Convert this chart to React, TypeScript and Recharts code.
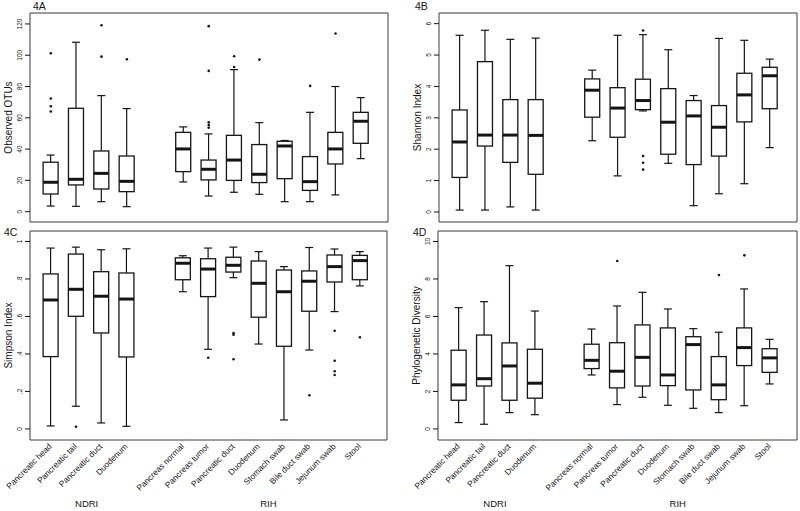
import React from 'react';
import { ComposedChart, Bar, Scatter, XAxis, YAxis, ReferenceArea } from 'recharts';

const ndriSites = ['Pancreatic head', 'Pancreatic tail', 'Pancreatic duct', 'Duodenum'];
const rihSites = ['Pancreas normal', 'Pancreas tumor', 'Pancreatic duct', 'Duodenum', 'Stomach swab', 'Bile duct swab', 'Jejunum swab', 'Stool'];
const cohorts = ['NDRI', 'RIH'];

// each row: [low whisker, q1, median, q3, high whisker], NDRI sites then RIH sites
const otuStats = [
  [3.6, 11.3, 18.8, 31.6, 36.2],
  [3.4, 17.1, 20.7, 66.1, 108.3],
  [6.4, 14.5, 24.5, 38.8, 74.2],
  [3.2, 12.8, 19.4, 35.6, 65.9],
  [19.0, 25.6, 40.1, 50.7, 54.2],
  [10.0, 20.3, 27.1, 33.0, 49.7],
  [12.4, 20.0, 33.0, 48.8, 90.8],
  [11.1, 18.6, 23.9, 42.9, 56.9],
  [6.4, 21.1, 42.0, 45.0, 45.5],
  [6.4, 13.6, 19.2, 35.2, 63.5],
  [10.7, 30.5, 40.1, 50.7, 80.0],
  [33.9, 43.7, 57.8, 63.5, 72.9],
];
const otuOutliers = [[101.3, 72.3, 67.4, 64], [], [119.2, 99.1], [97.4], [], [118.6, 90, 57.1, 55.4, 53.7], [99.4, 92.5], [97.2], [], [80.4], [113.9], []];

const shannonStats = [
  [0.06, 1.1, 2.23, 3.25, 5.63],
  [0.06, 2.1, 2.45, 4.79, 5.79],
  [0.16, 1.58, 2.45, 3.58, 5.5],
  [0.06, 1.2, 2.44, 3.58, 5.54],
  [2.27, 3.02, 3.88, 4.24, 4.52],
  [1.15, 2.38, 3.31, 3.96, 5.63],
  [3.22, 3.26, 3.55, 4.23, 5.65],
  [1.55, 1.84, 2.86, 3.93, 5.17],
  [0.2, 1.51, 3.06, 3.55, 3.71],
  [0.58, 1.78, 2.7, 3.39, 5.53],
  [0.9, 2.87, 3.73, 4.42, 5.47],
  [2.05, 3.29, 4.34, 4.61, 4.87],
];
const shannonOutliers = [[], [], [], [], [], [], [5.78, 1.78, 1.57, 1.35], [], [], [], [], []];

const simpsonStats = [
  [0.016, 0.386, 0.688, 0.827, 0.965],
  [0.121, 0.601, 0.745, 0.933, 0.97],
  [0.032, 0.512, 0.708, 0.839, 0.956],
  [0.014, 0.384, 0.693, 0.832, 0.961],
  [0.732, 0.796, 0.884, 0.913, 0.924],
  [0.425, 0.706, 0.853, 0.908, 0.965],
  [0.807, 0.837, 0.873, 0.916, 0.97],
  [0.453, 0.596, 0.777, 0.896, 0.946],
  [0.048, 0.441, 0.732, 0.848, 0.866],
  [0.421, 0.628, 0.788, 0.843, 0.968],
  [0.626, 0.784, 0.866, 0.928, 0.96],
  [0.763, 0.796, 0.898, 0.926, 0.946],
];
const simpsonOutliers = [[], [0.012], [], [], [], [0.38], [0.512, 0.503, 0.372], [], [], [0.18], [0.524, 0.364, 0.308, 0.288], [0.489]];

const pdStats = [
  [0.34, 1.53, 2.35, 4.2, 6.47],
  [0.25, 2.29, 2.68, 5.01, 6.79],
  [0.87, 1.53, 3.36, 4.59, 8.71],
  [0.76, 1.64, 2.44, 4.25, 6.29],
  [2.88, 3.22, 3.66, 4.52, 5.33],
  [1.3, 2.19, 3.08, 4.6, 6.56],
  [1.69, 2.29, 3.82, 5.55, 7.29],
  [1.26, 2.31, 2.88, 5.39, 6.4],
  [1.1, 2.08, 4.5, 4.92, 5.35],
  [0.87, 1.56, 2.35, 3.86, 5.16],
  [1.24, 3.38, 4.34, 5.39, 7.47],
  [2.4, 3.02, 3.79, 4.28, 4.78],
];
const pdOutliers = [[], [], [], [], [], [8.96], [], [], [], [8.21], [9.26], []];

const otuTicks = [0, 20, 40, 60, 80, 100, 120];
const shannonTicks = [0, 1, 2, 3, 4, 5, 6];
const simpsonTicks = [0, 0.2, 0.4, 0.6, 0.8, 1];
const pdTicks = [0, 2, 4, 6, 8, 10];

const FONT = '"Liberation Sans", Arial, Helvetica, sans-serif';
const INK = '#151515';

// x layout: sites at 1..4 then a wider gap before the RIH sites
const sites = [...ndriSites, ...rihSites];
const GAP = 1.23;
const positions = sites.map((_, i) => (i < ndriSites.length ? i + 1 : i + 1 + GAP));
const cohortCenters = [
  (positions[0] + positions[ndriSites.length - 1]) / 2 - 0.08,
  (positions[ndriSites.length] + positions[sites.length - 1]) / 2 - 0.12,
];
const xDomain = [0.18, 14.3];

const fmtSimpson = (v: number) => (v === 0 ? '0' : v === 1 ? '1' : String(v).replace('0.', '.'));

const whiskerRange = (d: any) => (d && d.stats ? [d.stats[0], d.stats[4]] : null);

const BoxShape = (props: any) => {
  const { x, y, width, height, payload } = props;
  if (!payload || !payload.stats || !Number.isFinite(y)) return null;
  const [lo, q1, med, q3, hi] = payload.stats;
  // linear position inside the [lo, hi] bar drawn by the y scale
  const py = (v: number) => y + ((hi - v) / (hi - lo)) * height;
  const cx = x + width / 2;
  const cap = 8;
  return (
    <g stroke={INK} fill="none" strokeWidth={1.2}>
      <line x1={cx} x2={cx} y1={py(hi)} y2={py(q3)} />
      <line x1={cx} x2={cx} y1={py(q1)} y2={py(lo)} />
      <line x1={cx - cap / 2} x2={cx + cap / 2} y1={py(hi)} y2={py(hi)} />
      <line x1={cx - cap / 2} x2={cx + cap / 2} y1={py(lo)} y2={py(lo)} />
      <rect x={x} y={py(q3)} width={width} height={py(q1) - py(q3)} fill="#fff" strokeWidth={1.3} />
      <line x1={x} x2={x + width} y1={py(med)} y2={py(med)} strokeWidth={3} />
    </g>
  );
};

const Dot = (props: any) => <circle cx={props.cx} cy={props.cy} r={1.3} fill={INK} />;

const YTick = (props: any) => {
  const { x, y, payload, fmt } = props;
  const tx = x - 3;
  return (
    <text x={tx} y={y} transform={`rotate(-90 ${tx} ${y})`} textAnchor="middle" dominantBaseline="central"
      fontSize={6.5} fontFamily={FONT} fill={INK}>
      {fmt ? fmt(payload.value) : payload.value}
    </text>
  );
};

const YTitle = (props: any) => {
  const { viewBox, text } = props;
  if (!viewBox) return null;
  const cx = viewBox.x + viewBox.width - 22;
  const cy = viewBox.y + viewBox.height / 2;
  return (
    <text x={cx} y={cy} transform={`rotate(-90 ${cx} ${cy})`} textAnchor="middle" dominantBaseline="central"
      fontSize={10} fontFamily={FONT} fill={INK}>
      {text}
    </text>
  );
};

const SiteTick = (props: any) => {
  const { x, y, index } = props;
  const ax = x + 1.5;
  const ay = y + 7;
  return (
    <text x={ax} y={ay} transform={`rotate(-45 ${ax} ${ay})`} textAnchor="end" fontSize={8.3} fontFamily={FONT} fill={INK}>
      {sites[index]}
    </text>
  );
};

const CohortTick = (props: any) => {
  const { x, y, index } = props;
  return (
    <text x={x} y={y + 14.5} textAnchor="middle" fontSize={9.5} fontFamily={FONT} fill={INK}>
      {cohorts[index]}
    </text>
  );
};

interface PanelProps {
  yLabel: string;
  stats: number[][];
  outliers: number[][];
  ticks: number[];
  yDomain: [number, number];
  fmt?: (v: number) => string;
  left: number;
  top: number;
  marginLeft: number;
  marginRight: number;
  bottom: boolean;
}

function Panel({ yLabel, stats, outliers, ticks, yDomain, fmt, left, top, marginLeft, marginRight, bottom }: PanelProps) {
  const rows = sites.map((name, i) => ({ name, pos: positions[i], stats: stats[i] }));
  const dots = outliers.flatMap((vals, i) => vals.map(v => ({ pos: positions[i], v })));
  const height = bottom ? 293 : 230;
  return (
    <div style={{ position: 'absolute', left, top }}>
      <ComposedChart width={400} height={height} data={rows}
        margin={{ top: 13, right: marginRight, bottom: bottom ? 0 : 8, left: marginLeft }}>
        {bottom ? (
          <XAxis dataKey="pos" type="number" domain={xDomain} allowDataOverflow ticks={positions} interval={0}
            axisLine={false} tickLine={false} tickSize={0} tickMargin={0} height={52} tick={<SiteTick />} />
        ) : (
          <XAxis dataKey="pos" type="number" domain={xDomain} allowDataOverflow ticks={positions} hide />
        )}
        {bottom && (
          <XAxis xAxisId="cohort" dataKey="pos" type="number" domain={xDomain} allowDataOverflow ticks={cohortCenters}
            interval={0} axisLine={false} tickLine={false} tickSize={0} tickMargin={0} height={19} tick={<CohortTick />} />
        )}
        <YAxis type="number" domain={yDomain} allowDataOverflow ticks={ticks} interval={0} width={30}
          axisLine={false} tickLine={{ stroke: INK }} tickSize={5} tickMargin={2} tick={<YTick fmt={fmt} />}
          label={<YTitle text={yLabel} />} />
        <ReferenceArea x1={xDomain[0]} x2={xDomain[1]} y1={yDomain[0]} y2={yDomain[1]}
          fill="none" fillOpacity={0} stroke="#3a3a3a" strokeWidth={1} strokeOpacity={1} />
        <Bar dataKey={whiskerRange} barSize={15} isAnimationActive={false}
          shape={<BoxShape />} activeBar={false} />
        <Scatter data={dots} dataKey="v" isAnimationActive={false} shape={<Dot />} />
      </ComposedChart>
    </div>
  );
}

const titleStyle = (left: number, top: number): React.CSSProperties => ({
  position: 'absolute', left, top, fontSize: 10.5, lineHeight: 1, fontFamily: FONT, color: INK,
});

export default function App() {
  return (
    <div style={{ position: 'absolute', left: 0, top: 0, width: 800, height: 511, background: '#fff', overflow: 'hidden' }}>
      <Panel yLabel="Observed OTUs" stats={otuStats} outliers={otuOutliers} ticks={otuTicks}
        yDomain={[-6.6, 127]} left={0} top={0} marginLeft={0} marginRight={12} bottom={false} />
      <Panel yLabel="Shannon Index" stats={shannonStats} outliers={shannonOutliers} ticks={shannonTicks}
        yDomain={[-0.32, 6.34]} left={400} top={0} marginLeft={9} marginRight={3} bottom={false} />
      <Panel yLabel="Simpson Index" stats={simpsonStats} outliers={simpsonOutliers} ticks={simpsonTicks}
        yDomain={[-0.059, 1.056]} fmt={fmtSimpson} left={0} top={218} marginLeft={0} marginRight={13} bottom />
      <Panel yLabel="Phylogenetic Diversity" stats={pdStats} outliers={pdOutliers} ticks={pdTicks}
        yDomain={[-0.59, 10.56]} left={400} top={218} marginLeft={8} marginRight={3} bottom />
      <div style={titleStyle(33, 1)}>4A</div>
      <div style={titleStyle(415, 1)}>4B</div>
      <div style={titleStyle(4, 227)}>4C</div>
      <div style={titleStyle(413, 227)}>4D</div>
    </div>
  );
}
